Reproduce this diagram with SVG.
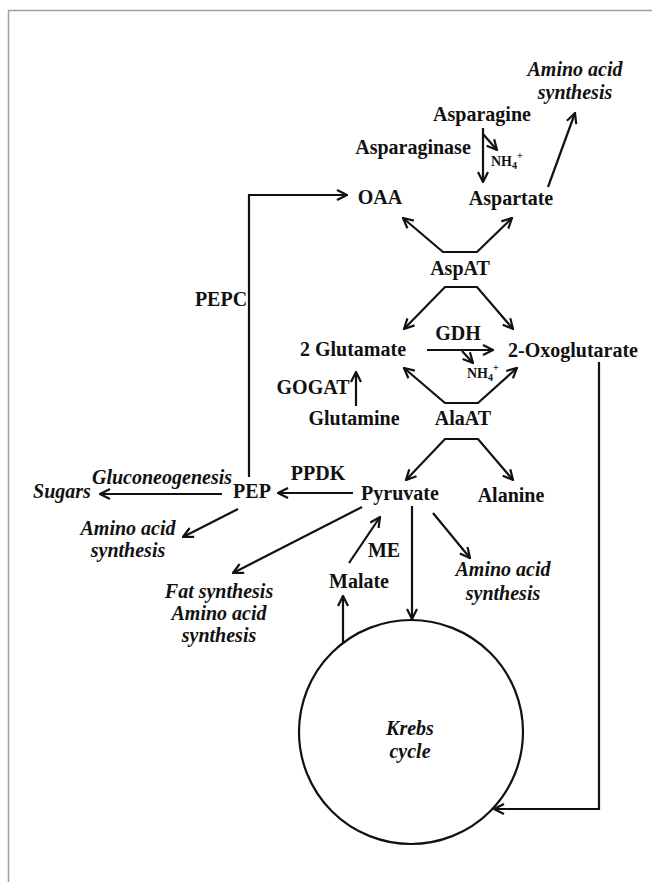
<svg xmlns="http://www.w3.org/2000/svg" width="652" height="882" viewBox="0 0 652 882">
<style>
.t{font-family:"Liberation Serif","Times New Roman",serif;font-size:20px;font-weight:bold;text-anchor:middle;fill:#111}
.i{font-style:italic}
.s{font-family:"Liberation Serif","Times New Roman",serif;font-size:14px;font-weight:bold;fill:#111}
.c{fill:none;stroke:#111;stroke-width:2.2;stroke-linejoin:miter}
.a{marker-end:url(#ah)}
.b{marker-start:url(#ah);marker-end:url(#ah)}
</style>
<defs>
<marker id="ah" viewBox="0 0 12 12" refX="11" refY="6" markerWidth="12" markerHeight="12" markerUnits="userSpaceOnUse" orient="auto-start-reverse">
<path d="M1,1 L11,6 L1,11" fill="none" stroke="#111" stroke-width="2.2"/>
</marker>
</defs>
<rect width="652" height="882" fill="#fff"/>
<g id="frame"><path d="M8.5,882 L8.5,10.5 L652,10.5" fill="none" stroke="#a0a0a0" stroke-width="1.5"/></g>

<g id="connectors">
<path class="c a" d="M483,128 L483,182"/>
<path class="c a" d="M483,134 L497,150"/>
<path class="c a" d="M548,187 L575,113"/>
<path class="c a" d="M249,477 L249,195 L347,195"/>
<path class="c b" d="M403,218 L443,252 L477,252 L512,218"/>
<path class="c b" d="M404,329 L445,287 L477,287 L513,329"/>
<path class="c a" d="M427,350 L493,350"/>
<path class="c a" d="M462,351 L473,363"/>
<path class="c b" d="M404,368 L445,403 L478,403 L517,368"/>
<path class="c a" d="M356,406 L356,372"/>
<path class="c b" d="M406,480 L445,439 L478,439 L513,480"/>
<path class="c a" d="M353,493 L278,493"/>
<path class="c a" d="M222,494 L100,494"/>
<path class="c a" d="M238,509 L183,537"/>
<path class="c a" d="M362,507 L233,573"/>
<path class="c a" d="M349,563 L380,517"/>
<path class="c a" d="M412,506 L412,619"/>
<path class="c a" d="M433,513 L470,558"/>
<path class="c a" d="M343,643 L343,596"/>
<path class="c a" d="M599,362 L599,809 L494,809"/>
</g>

<g id="aa_top"><text class="t i" x="575" y="76">Amino acid</text><text class="t i" x="575" y="99">synthesis</text></g>
<g id="asparagine"><text class="t" x="482" y="121">Asparagine</text></g>
<g id="asparaginase"><text class="t" x="413" y="154">Asparaginase</text></g>
<g id="nh4_top"><text class="s" x="491" y="166">NH<tspan font-size="10" dy="3">4</tspan><tspan font-size="10" dy="-10">+</tspan></text></g>
<g id="oaa"><text class="t" x="380" y="204">OAA</text></g>
<g id="aspartate"><text class="t" x="511" y="205">Aspartate</text></g>
<g id="aspat"><text class="t" x="460" y="275">AspAT</text></g>
<g id="pepc"><text class="t" x="221" y="306">PEPC</text></g>
<g id="gdh"><text class="t" x="458" y="340">GDH</text></g>
<g id="glutamate"><text class="t" x="353" y="356">2 Glutamate</text></g>
<g id="oxoglutarate"><text class="t" x="573" y="357">2-Oxoglutarate</text></g>
<g id="nh4_gdh"><text class="s" x="467" y="378">NH<tspan font-size="10" dy="3">4</tspan><tspan font-size="10" dy="-10">+</tspan></text></g>
<g id="gogat"><text class="t" x="313" y="394">GOGAT</text></g>
<g id="glutamine"><text class="t" x="354" y="425">Glutamine</text></g>
<g id="alaat"><text class="t" x="463" y="425">AlaAT</text></g>
<g id="ppdk"><text class="t" x="318" y="480">PPDK</text></g>
<g id="gluconeogenesis"><text class="t i" x="162" y="484">Gluconeogenesis</text></g>
<g id="sugars"><text class="t i" x="62" y="498">Sugars</text></g>
<g id="pep"><text class="t" x="252" y="498">PEP</text></g>
<g id="pyruvate"><text class="t" x="400" y="500">Pyruvate</text></g>
<g id="alanine"><text class="t" x="511" y="502">Alanine</text></g>
<g id="aa_pep"><text class="t i" x="128" y="535">Amino acid</text><text class="t i" x="128" y="557">synthesis</text></g>
<g id="me"><text class="t" x="384" y="557">ME</text></g>
<g id="aa_pyr"><text class="t i" x="503" y="576">Amino acid</text><text class="t i" x="503" y="600">synthesis</text></g>
<g id="malate"><text class="t" x="359" y="588">Malate</text></g>
<g id="fat"><text class="t i" x="219" y="598">Fat synthesis</text><text class="t i" x="219" y="620">Amino acid</text><text class="t i" x="219" y="642">synthesis</text></g>
<g id="krebs"><circle cx="411" cy="732" r="112" fill="none" stroke="#111" stroke-width="2.2"/><text class="t i" x="410" y="735">Krebs</text><text class="t i" x="410" y="758">cycle</text></g>
</svg>
